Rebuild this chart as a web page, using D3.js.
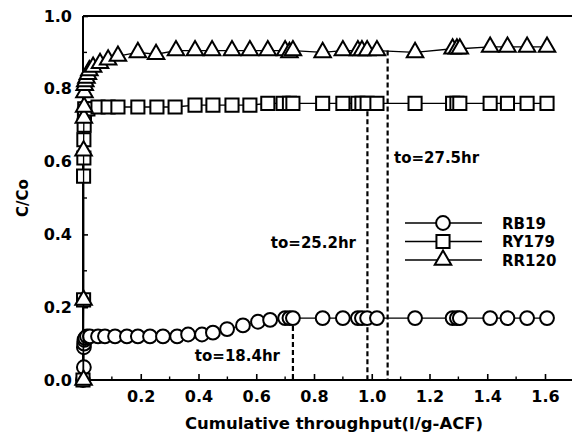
<!DOCTYPE html>
<html>
<head>
<meta charset="utf-8">
<script src="https://cdnjs.cloudflare.com/ajax/libs/d3/7.8.5/d3.min.js"></script>
<style>
body { margin: 0; background: #fff; }
text { font-family: "DejaVu Sans", sans-serif; font-weight: bold; fill: #000; }
</style>
</head>
<body>
<script>

// breakthrough data (x = l/g-ACF, y = C/Co)
var rb19X = [0.0, 0.003, 0.003, 0.004, 0.005, 0.008, 0.014, 0.024, 0.052, 0.076, 0.111, 0.152, 0.19, 0.232, 0.277, 0.326, 0.364, 0.412, 0.45, 0.499, 0.554, 0.606, 0.648, 0.70, 0.715, 0.727, 0.83, 0.9, 0.952, 0.966, 0.984, 1.018, 1.15, 1.28, 1.295, 1.305, 1.41, 1.47, 1.538, 1.607];
var rb19Y = [0.0, 0.035, 0.09, 0.10, 0.11, 0.115, 0.12, 0.12, 0.12, 0.12, 0.12, 0.12, 0.12, 0.12, 0.12, 0.12, 0.125, 0.125, 0.13, 0.14, 0.15, 0.16, 0.165, 0.17, 0.17, 0.17, 0.17, 0.17, 0.17, 0.17, 0.17, 0.17, 0.17, 0.17, 0.17, 0.17, 0.17, 0.17, 0.17, 0.17];

var ry179X = [0.0, 0.002, 0.002, 0.003, 0.003, 0.004, 0.005, 0.006, 0.017, 0.052, 0.087, 0.121, 0.19, 0.256, 0.319, 0.388, 0.45, 0.516, 0.578, 0.64, 0.693, 0.715, 0.727, 0.83, 0.9, 0.952, 0.966, 0.984, 1.018, 1.15, 1.28, 1.295, 1.305, 1.41, 1.47, 1.538, 1.607];
var ry179Y = [0.0, 0.22, 0.56, 0.61, 0.66, 0.70, 0.73, 0.745, 0.745, 0.75, 0.75, 0.75, 0.75, 0.75, 0.75, 0.755, 0.755, 0.755, 0.755, 0.76, 0.76, 0.76, 0.76, 0.76, 0.76, 0.76, 0.76, 0.76, 0.76, 0.76, 0.76, 0.76, 0.76, 0.76, 0.76, 0.76, 0.76];

var rr120X = [0.002, 0.002, 0.002, 0.003, 0.004, 0.005, 0.006, 0.008, 0.012, 0.017, 0.022, 0.035, 0.059, 0.087, 0.121, 0.19, 0.253, 0.322, 0.388, 0.447, 0.516, 0.578, 0.64, 0.70, 0.715, 0.727, 0.83, 0.9, 0.952, 0.966, 0.984, 1.018, 1.15, 1.28, 1.295, 1.305, 1.41, 1.47, 1.538, 1.607];
var rr120Y = [0.0, 0.22, 0.63, 0.72, 0.75, 0.79, 0.81, 0.82, 0.83, 0.84, 0.85, 0.86, 0.87, 0.88, 0.89, 0.90, 0.895, 0.905, 0.905, 0.905, 0.905, 0.905, 0.905, 0.905, 0.90, 0.905, 0.90, 0.905, 0.905, 0.905, 0.905, 0.905, 0.90, 0.91, 0.91, 0.91, 0.915, 0.915, 0.915, 0.915];

var seriesNames = ["RB19", "RY179", "RR120"];

// breakthrough times marked with dashed drop lines
var cutoffX = [0.727, 0.985, 1.055];
var cutoffY = [0.17, 0.76, 0.905];
var cutoffLabels = ["to=18.4hr", "to=25.2hr", "to=27.5hr"];

var xTickValues = [0.2, 0.4, 0.6, 0.8, 1.0, 1.2, 1.4, 1.6];
var yTickValues = [0.0, 0.2, 0.4, 0.6, 0.8, 1.0];


var width = 572, height = 439;

var svg = d3.select("body")
	.append("svg")
	.attr("width", width)
	.attr("height", height);

var xScale = d3.scaleLinear()
	.domain([0, 1.6])
	.range([83, 545]);

var yScale = d3.scaleLinear()
	.domain([0, 1])
	.range([380, 16]);

var xEnd = xScale.invert(width);


// x axis, ticks pointing in
var xAxis = svg.append("g")
	.attr("transform", "translate(0," + yScale(0) + ")")
	.call(d3.axisBottom(xScale)
		.tickValues(xTickValues)
		.tickFormat(d3.format(".1f"))
		.tickSize(-6)
		.tickPadding(11));

xAxis.select(".domain").remove();
xAxis.selectAll("line").attr("stroke-width", 1.6);
xAxis.selectAll("text")
	.style("font-size", "16px");

// minor x ticks
svg.append("g").selectAll("line")
	.data(d3.range(1, 17, 2).map(function(d){ return d / 10; }))
	.enter()
	.append("line")
	.attr("x1", function(d){ return xScale(d); })
	.attr("x2", function(d){ return xScale(d); })
	.attr("y1", yScale(0))
	.attr("y2", yScale(0) - 3.5)
	.attr("stroke", "#000")
	.attr("stroke-width", 1.4);

// y axis, ticks pointing in
var yAxis = svg.append("g")
	.attr("transform", "translate(" + xScale(0) + ",0)")
	.call(d3.axisLeft(yScale)
		.tickValues(yTickValues)
		.tickFormat(d3.format(".1f"))
		.tickSize(-5)
		.tickPadding(11));

yAxis.select(".domain").remove();
yAxis.selectAll("line").attr("stroke-width", 1.6);
yAxis.selectAll("text")
	.style("font-size", "16px");

svg.append("g").selectAll("line")
	.data(d3.range(1, 10, 2).map(function(d){ return d / 10; }))
	.enter()
	.append("line")
	.attr("x1", xScale(0))
	.attr("x2", xScale(0) + 4)
	.attr("y1", function(d){ return yScale(d); })
	.attr("y2", function(d){ return yScale(d); })
	.attr("stroke", "#000")
	.attr("stroke-width", 1.4);

// frame: left, bottom and top (right side runs off the picture)
var frame = svg.append("g")
	.attr("stroke", "#000")
	.attr("stroke-width", 2);

frame.append("line")
	.attr("x1", xScale(0)).attr("x2", xScale(0))
	.attr("y1", yScale(1)).attr("y2", yScale(0));
frame.append("line")
	.attr("x1", xScale(0)).attr("x2", xScale(xEnd))
	.attr("y1", yScale(0)).attr("y2", yScale(0));
frame.append("line")
	.attr("x1", xScale(0)).attr("x2", xScale(xEnd))
	.attr("y1", yScale(1)).attr("y2", yScale(1));


// dashed drop lines at breakthrough times
svg.append("g").selectAll("line")
	.data(cutoffX)
	.enter()
	.append("line")
	.attr("x1", function(d){ return xScale(d); })
	.attr("x2", function(d){ return xScale(d); })
	.attr("y1", function(d, i){ return yScale(cutoffY[i]); })
	.attr("y2", yScale(0))
	.attr("stroke", "#000")
	.attr("stroke-width", 2.2)
	.attr("stroke-dasharray", "5,3");


// series: line + markers
var symbols = [d3.symbolCircle, d3.symbolSquare, d3.symbolTriangle];
var symbolSizes = [150, 172, 118];

function drawSeries(xs, ys, k){
	var pts = xs.map(function(x, i){ return [x, ys[i]]; });

	var line = d3.line()
		.x(function(d){ return xScale(d[0]); })
		.y(function(d){ return yScale(d[1]); });

	var g = svg.append("g");

	g.append("path")
		.datum(pts)
		.attr("d", line)
		.attr("fill", "none")
		.attr("stroke", "#000")
		.attr("stroke-width", 1.3);

	g.selectAll(".pt")
		.data(pts)
		.enter()
		.append("path")
		.attr("class", "pt")
		.attr("transform", function(d){
			return "translate(" + xScale(d[0]) + "," + yScale(d[1]) + ")";
		})
		.attr("d", d3.symbol().type(symbols[k]).size(symbolSizes[k]))
		.attr("fill", "#fff")
		.attr("stroke", "#000")
		.attr("stroke-width", 2);
}

drawSeries(rb19X, rb19Y, 0);
drawSeries(ry179X, ry179Y, 1);
drawSeries(rr120X, rr120Y, 2);


// breakthrough labels
var labelPos = [
	{x: 280, y: 361, anchor: "end"},
	{x: 356, y: 248, anchor: "end"},
	{x: 394, y: 163, anchor: "start"}
];

svg.append("g").selectAll("text")
	.data(cutoffLabels)
	.enter()
	.append("text")
	.attr("x", function(d, i){ return labelPos[i].x; })
	.attr("y", function(d, i){ return labelPos[i].y; })
	.attr("text-anchor", function(d, i){ return labelPos[i].anchor; })
	.style("font-size", "15px")
	.text(function(d){ return d; });


// legend
var legend = svg.append("g")
	.attr("transform", "translate(405,223)");

var rows = legend.selectAll("g")
	.data(seriesNames)
	.enter()
	.append("g")
	.attr("transform", function(d, i){ return "translate(0," + (i * 18.5) + ")"; });

rows.append("line")
	.attr("x1", 0).attr("x2", 77)
	.attr("stroke", "#000")
	.attr("stroke-width", 1.6);

rows.append("path")
	.attr("transform", "translate(38,0)")
	.attr("d", function(d, i){ return d3.symbol().type(symbols[i]).size(symbolSizes[i])(); })
	.attr("fill", "#fff")
	.attr("stroke", "#000")
	.attr("stroke-width", 2);

rows.append("text")
	.attr("x", 97)
	.attr("y", 5.5)
	.style("font-size", "15px")
	.text(function(d){ return d; });


// axis titles
svg.append("text")
	.attr("x", 334)
	.attr("y", 429)
	.attr("text-anchor", "middle")
	.style("font-size", "16.5px")
	.text("Cumulative throughput(l/g-ACF)");

svg.append("text")
	.attr("transform", "translate(28,198) rotate(-90)")
	.attr("text-anchor", "middle")
	.style("font-size", "15px")
	.text("C/Co");

</script>
</body>
</html>
